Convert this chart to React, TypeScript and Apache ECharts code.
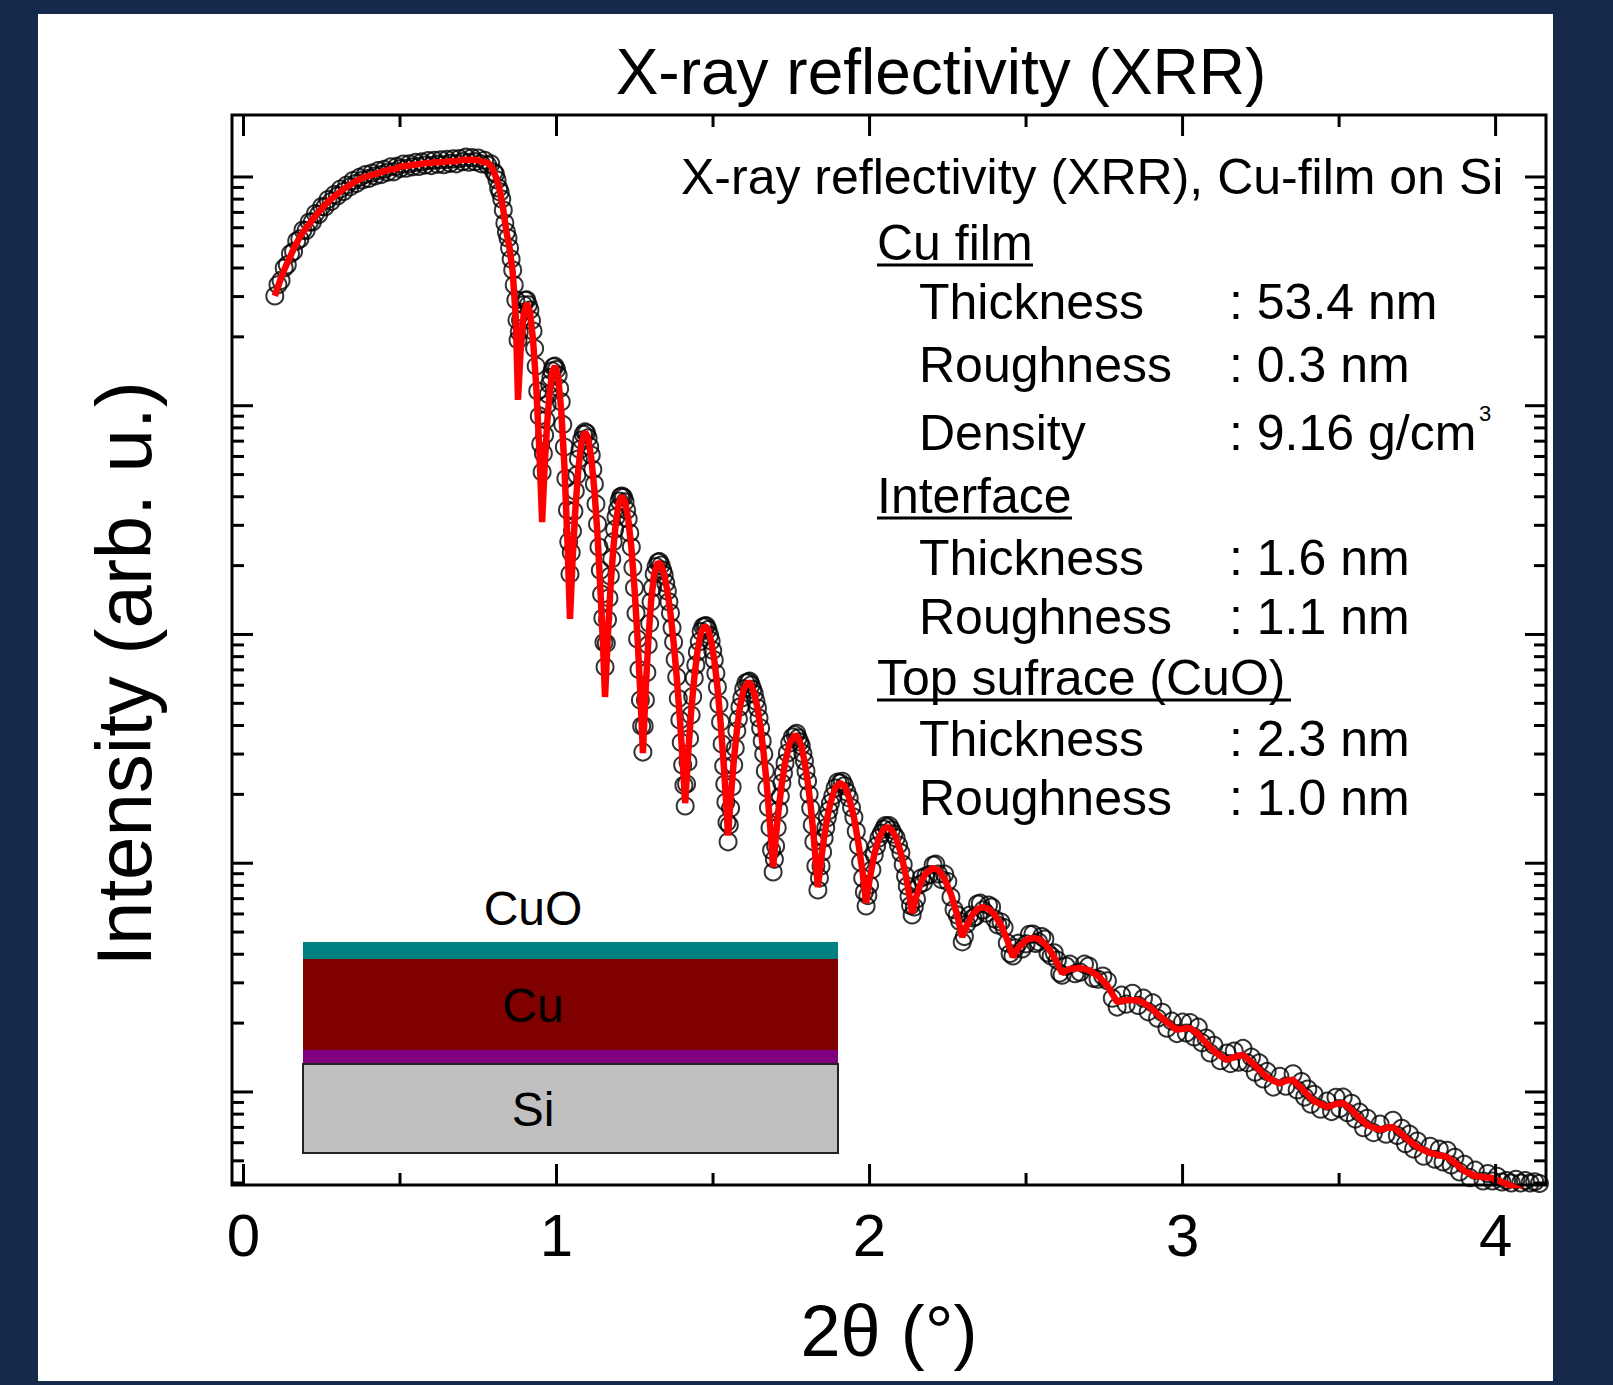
import React, { useEffect, useRef } from 'react';
import * as echarts from 'echarts';

// ---- measured scan: 2θ (deg) and intensity (arb. u.), open circles ----
const twoThetaMeasured = [
  0.10,0.11,0.12,0.13,0.14,0.15,0.16,0.17,0.18,0.19,
  0.20,0.21,0.22,0.23,0.24,0.25,0.26,0.27,0.28,0.29,
  0.30,0.31,0.32,0.33,0.34,0.35,0.36,0.37,0.38,0.39,
  0.40,0.41,0.42,0.43,0.44,0.45,0.46,0.47,0.48,0.49,
  0.50,0.51,0.52,0.53,0.54,0.55,0.56,0.57,0.58,0.59,
  0.60,0.61,0.62,0.63,0.64,0.65,0.66,0.67,0.68,0.69,
  0.70,0.71,0.72,0.73,0.74,0.75,0.76,0.77,0.78,0.79,
  0.80,0.805,0.81,0.815,0.82,0.825,0.83,0.835,0.84,0.845,
  0.85,0.855,0.86,0.865,0.87,0.8735,0.877,0.881,0.885,0.89,
  0.895,0.90,0.905,0.91,0.915,0.92,0.925,0.93,0.935,0.94,
  0.945,0.9495,0.954,0.958,0.962,0.966,0.970,0.974,0.978,0.982,
  0.986,0.9905,0.995,1.000,1.005,1.010,1.015,1.020,1.025,1.030,
  1.035,1.039,1.043,1.047,1.051,1.0555,1.060,1.065,1.070,1.075,
  1.080,1.0855,1.091,1.096,1.101,1.106,1.111,1.116,1.121,1.126,
  1.131,1.1355,1.140,1.144,1.148,1.1515,1.155,1.159,1.163,1.1675,
  1.172,1.1765,1.181,1.1855,1.190,1.195,1.200,1.2045,1.209,1.214,
  1.219,1.224,1.229,1.234,1.239,1.244,1.249,1.254,1.259,1.2635,
  1.268,1.272,1.276,1.280,1.284,1.2885,1.293,1.2975,1.302,1.307,
  1.312,1.318,1.324,1.329,1.334,1.339,1.344,1.349,1.354,1.359,
  1.364,1.369,1.374,1.379,1.384,1.389,1.394,1.3985,1.403,1.407,
  1.411,1.4155,1.420,1.425,1.430,1.435,1.440,1.445,1.450,1.456,
  1.462,1.468,1.474,1.479,1.484,1.489,1.494,1.499,1.504,1.509,
  1.514,1.519,1.524,1.529,1.534,1.5375,1.541,1.5445,1.548,1.552,
  1.556,1.561,1.566,1.571,1.576,1.581,1.586,1.592,1.598,1.605,
  1.612,1.617,1.622,1.627,1.632,1.637,1.642,1.647,1.652,1.657,
  1.662,1.667,1.672,1.677,1.682,1.687,1.692,1.696,1.700,1.705,
  1.710,1.715,1.720,1.725,1.730,1.7375,1.745,1.7535,1.762,1.767,
  1.772,1.777,1.782,1.787,1.792,1.797,1.802,1.807,1.812,1.817,
  1.822,1.8285,1.835,1.840,1.845,1.850,1.855,1.860,1.865,1.870,
  1.875,1.8825,1.890,1.898,1.906,1.913,1.920,1.9275,1.935,1.9425,
  1.950,1.9575,1.965,1.9715,1.978,1.9835,1.989,1.9945,2.000,2.0075,
  2.015,2.0225,2.030,2.0375,2.045,2.0505,2.056,2.063,2.070,2.0775,
  2.085,2.0925,2.100,2.1075,2.115,2.1205,2.126,2.131,2.136,2.143,
  2.150,2.1575,2.165,2.1725,2.180,2.1915,2.203,2.2115,2.220,2.230,
  2.240,2.250,2.260,2.270,2.280,2.288,2.296,2.303,2.310,2.320,
  2.330,2.3375,2.345,2.354,2.363,2.3715,2.380,2.390,2.400,2.410,
  2.420,2.430,2.440,2.449,2.458,2.4665,2.475,2.4875,2.500,2.511,
  2.522,2.531,2.540,2.550,2.560,2.570,2.580,2.590,2.600,2.6075,
  2.615,2.6275,2.640,2.6565,2.673,2.6865,2.700,2.715,2.730,2.745,
  2.760,2.7755,2.791,2.805,2.820,2.840,2.858,2.875,2.890,2.905,
  2.920,2.935,2.950,2.966,2.982,3.000,3.012,3.024,3.037,3.050,
  3.062,3.075,3.088,3.100,3.121,3.142,3.153,3.165,3.179,3.193,
  3.207,3.220,3.232,3.245,3.258,3.270,3.290,3.311,3.330,3.353,
  3.366,3.380,3.390,3.400,3.410,3.420,3.441,3.462,3.476,3.490,
  3.502,3.513,3.527,3.540,3.552,3.565,3.578,3.590,3.610,3.631,
  3.650,3.672,3.686,3.700,3.712,3.725,3.738,3.750,3.770,3.791,
  3.806,3.820,3.832,3.845,3.858,3.870,3.885,3.900,3.918,3.935,
  3.960,3.975,3.990,4.005,4.020,4.035,4.050,4.065,4.080,4.095,
  4.110,4.125,4.140,
];

const intensityMeasured = [
  3020,3380,3530,4000,4130,4620,4720,5250,5360,5860,
  5830,6350,6360,6920,6850,7430,7390,7970,7810,8380,
  8260,8860,8640,9220,9050,9650,9370,9950,9700,10250,
  9850,10400,10100,10660,10240,10810,10490,11070,10530,11120,
  10880,11380,10920,11420,11070,11580,11120,11630,11270,11790,
  11210,11830,11370,11890,11310,11930,11470,11990,11410,12040,
  11660,12200,11600,12140,11660,12100,11410,11830,11270,11420,
  10500,10300,9700,8950,8600,8010,7170,6290,5750,5410,
  4890,4380,3920,3370,2900,2370,1940,2100,2370,2560,
  2760,2890,2900,2760,2620,2360,2120,1780,1490,1160,
  902,680,513,618,745,867,1010,1120,1240,1330,
  1420,1480,1490,1440,1360,1190,1040,828,660,481,
  350,254,184,228,283,346,424,498,585,644,
  708,750,768,760,723,664,609,526,455,372,
  304,241,191,150,118,92.2,72.1,91.5,116,144.5,
  180,214,254,288,326,353,383,400,403,398,
  380,349,320,278,241,196,160,123.7,95.6,70.3,
  51.7,39.8,30.6,39.8,51.7,68.2,90.0,111.8,139,160,
  184,198,207,208,201,191,182,168,155,139,
  124,107,92.7,77.7,65.2,52.5,42.3,33.7,26.9,21.9,
  17.8,22.2,27.7,35.1,44.5,53.6,64.5,73.6,83.9,93.0,
  103,108,109,109,105,99.2,93.7,85.2,77.4,67.6,
  59.0,49.4,41.4,33.2,26.6,22.2,18.5,15.1,12.4,14.7,
  17.4,21.6,26.9,31.9,37.9,42.7,48.2,52.8,57.8,61.5,
  62.0,62.5,60.2,57.5,54.9,51.2,47.7,43.1,39.0,34.2,
  30.0,25.3,21.3,17.5,14.3,11.4,9.16,10.4,11.9,14.3,
  17.1,19.6,22.4,24.8,27.4,30.3,33.5,35.6,36.4,37.0,
  35.3,33.9,32.6,30.2,28.0,25.3,22.9,20.0,17.4,14.7,
  12.4,9.73,7.64,8.62,9.73,11.2,12.9,14.3,15.8,17.0,
  18.3,19.7,21.3,22.6,22.4,22.8,21.8,20.5,19.3,17.5,
  15.9,13.8,11.9,10.1,8.62,7.49,6.50,7.22,8.03,9.36,
  10.9,11.9,12.9,13.5,14.1,14.6,14.4,14.6,14.0,13.4,
  12.9,12.0,11.1,9.88,8.80,7.95,7.19,6.54,5.94,6.44,
  6.98,8.03,8.61,8.23,8.79,8.92,9.82,9.90,8.97,8.48,
  8.96,8.31,7.12,6.27,5.94,5.58,4.53,4.78,5.42,5.93,
  5.76,5.84,6.63,6.69,6.25,6.05,6.56,6.43,5.70,5.37,
  5.53,5.23,4.48,4.03,3.93,4.27,4.47,4.22,4.44,4.89,
  4.90,4.46,4.53,4.78,4.66,4.05,3.93,4.06,3.77,3.31,
  3.24,3.55,3.62,3.29,3.34,3.62,3.55,3.14,3.11,3.21,
  3.06,2.57,2.35,2.65,2.42,2.70,2.39,2.57,2.24,2.45,
  2.10,2.23,1.90,2.04,1.80,2.02,1.81,2.01,1.74,1.92,
  1.64,1.72,1.48,1.60,1.37,1.48,1.33,1.51,1.35,1.55,
  1.34,1.42,1.22,1.34,1.14,1.23,1.05,1.17,1.06,1.20,
  1.02,1.11,0.950,1.03,0.884,0.977,0.841,0.912,0.821,0.948,
  0.846,0.949,0.812,0.892,0.761,0.816,0.698,0.767,0.664,0.723,
  0.654,0.752,0.645,0.694,0.594,0.654,0.563,0.610,0.524,0.579,
  0.508,0.562,0.494,0.556,0.479,0.518,0.447,0.483,0.422,0.455,
  0.408,0.440,0.408,0.428,0.404,0.41,0.40,0.415,0.40,0.41,
  0.40,0.405,0.398,
];

// ---- fitted (simulated) curve: 2θ (deg) and intensity, red line ----
const twoThetaFit = [
  0.10,0.11,0.12,0.13,0.14,0.15,0.16,0.17,0.18,0.19,
  0.20,0.21,0.22,0.23,0.24,0.25,0.26,0.27,0.28,0.29,
  0.30,0.31,0.32,0.33,0.34,0.35,0.36,0.37,0.38,0.39,
  0.40,0.41,0.42,0.43,0.44,0.45,0.46,0.47,0.48,0.49,
  0.50,0.51,0.52,0.53,0.54,0.55,0.56,0.57,0.58,0.59,
  0.60,0.61,0.62,0.63,0.64,0.65,0.66,0.67,0.68,0.69,
  0.70,0.71,0.72,0.73,0.74,0.75,0.76,0.77,0.78,0.79,
  0.80,0.81,0.82,0.83,0.84,0.85,0.86,0.87,0.877,0.885,
  0.895,0.905,0.915,0.925,0.935,0.945,0.954,0.962,0.970,0.978,
  0.986,0.995,1.005,1.015,1.025,1.035,1.043,1.051,1.060,1.070,
  1.080,1.091,1.101,1.111,1.121,1.131,1.140,1.148,1.155,1.163,
  1.172,1.181,1.190,1.200,1.209,1.219,1.229,1.239,1.249,1.259,
  1.268,1.276,1.284,1.293,1.302,1.312,1.324,1.334,1.344,1.354,
  1.364,1.374,1.384,1.394,1.403,1.411,1.420,1.430,1.440,1.450,
  1.462,1.474,1.484,1.494,1.504,1.514,1.524,1.534,1.541,1.548,
  1.556,1.566,1.576,1.586,1.598,1.612,1.622,1.632,1.642,1.652,
  1.662,1.672,1.682,1.692,1.700,1.710,1.720,1.730,1.745,1.762,
  1.772,1.782,1.792,1.802,1.812,1.822,1.835,1.845,1.855,1.865,
  1.875,1.890,1.906,1.920,1.935,1.950,1.965,1.978,1.989,2.000,
  2.015,2.030,2.045,2.056,2.070,2.085,2.100,2.115,2.126,2.136,
  2.150,2.165,2.180,2.203,2.220,2.240,2.260,2.280,2.296,2.310,
  2.330,2.345,2.363,2.380,2.400,2.420,2.440,2.458,2.475,2.500,
  2.522,2.540,2.560,2.580,2.600,2.615,2.640,2.673,2.700,2.730,
  2.760,2.791,2.805,2.820,2.840,2.858,2.875,2.890,2.905,2.920,
  2.935,2.950,2.966,2.982,3.000,3.012,3.024,3.037,3.050,3.062,
  3.075,3.088,3.100,3.121,3.142,3.153,3.165,3.179,3.193,3.207,
  3.220,3.232,3.245,3.258,3.270,3.290,3.311,3.330,3.353,3.366,
  3.380,3.390,3.400,3.410,3.420,3.441,3.462,3.476,3.490,3.502,
  3.513,3.527,3.540,3.552,3.565,3.578,3.590,3.610,3.631,3.650,
  3.672,3.686,3.700,3.712,3.725,3.738,3.750,3.770,3.791,3.806,
  3.820,3.832,3.845,3.858,3.870,3.885,3.900,3.918,3.935,3.960,
  3.975,3.990,4.005,4.020,4.035,4.050,4.065,4.080,4.095,4.110,
  4.125,4.140,
];

const intensityFit = [
  3020,3300,3620,3920,4210,4510,4840,5150,5470,5720,
  5980,6230,6490,6750,7030,7280,7540,7780,8010,8220,
  8430,8640,8860,9040,9230,9410,9610,9750,9900,10000,
  10100,10200,10300,10400,10500,10600,10700,10800,10800,10900,
  11100,11100,11200,11200,11300,11300,11400,11400,11500,11500,
  11500,11600,11600,11600,11600,11700,11700,11700,11700,11800,
  11900,11900,11900,11900,11900,11800,11700,11600,11500,11200,
  10500,9700,8600,7170,5750,4890,3840,2420,1060,1720,
  2490,2810,2570,1940,1230,647,310,540,832,1140,
  1390,1490,1340,958,551,254,117,207,350,534,
  694,768,723,591,428,272,160,93.7,53.3,92.7,
  157,234,313,380,403,380,320,241,160,95.6,
  54.4,30.3,54.4,92.7,139,184,207,201,182,155,
  124,92.7,65.2,43.2,28.0,18.3,29.4,45.8,64.5,83.9,
  103,109,105,93.7,77.4,59.0,41.4,27.2,19.3,13.2,
  18.9,27.7,37.9,48.2,57.8,62.0,60.2,54.9,47.7,39.0,
  30.0,21.8,14.8,9.63,12.8,17.4,22.4,27.4,33.5,36.4,
  35.3,32.6,28.0,22.9,17.8,12.9,7.87,10.3,13.0,15.8,
  18.3,21.3,22.4,21.8,19.3,15.9,12.1,9.06,6.70,8.45,
  10.9,12.9,14.1,14.4,14.0,12.9,11.1,8.97,7.41,6.06,
  7.19,8.28,9.06,9.53,9.34,8.53,7.34,5.94,4.76,5.32,
  6.00,6.31,6.44,6.31,5.94,5.37,4.62,3.89,4.26,4.62,
  4.71,4.67,4.44,4.09,3.66,3.31,3.45,3.48,3.41,3.21,
  2.91,2.47,2.50,2.52,2.52,2.52,2.45,2.38,2.29,2.19,
  2.10,2.02,1.94,1.87,1.89,1.90,1.90,1.85,1.79,1.71,
  1.64,1.57,1.51,1.44,1.38,1.40,1.42,1.44,1.45,1.40,
  1.35,1.30,1.25,1.20,1.16,1.12,1.09,1.12,1.13,1.08,
  1.04,1.00,0.970,0.940,0.913,0.885,0.860,0.873,0.886,0.891,
  0.895,0.864,0.834,0.801,0.770,0.743,0.717,0.699,0.682,0.696,
  0.703,0.679,0.655,0.632,0.611,0.593,0.575,0.557,0.541,0.535,
  0.530,0.525,0.520,0.504,0.489,0.470,0.451,0.440,0.429,0.425,
  0.423,0.421,0.412,0.404,0.396,0.388,0.380,0.373,0.365,0.358,
  0.353,0.348,
];

const xTickLabels = [0, 1, 2, 3, 4];
const xMinorTicks = [0.5, 1.5, 2.5, 3.5];
const yMajorTicks = [1, 10, 100, 1000, 10000];
const yMinorTicks = [
  0.4, 0.5, 0.6, 0.7, 0.8, 0.9,
  2, 3, 4, 5, 6, 7, 8, 9,
  20, 30, 40, 50, 60, 70, 80, 90,
  200, 300, 400, 500, 600, 700, 800, 900,
  2000, 3000, 4000, 5000, 6000, 7000, 8000, 9000,
];

const chartTitle = 'X-ray reflectivity (XRR)';
const xAxisTitle = '2θ (°)';
const yAxisTitle = 'Intensity (arb. u.)';
const headerText = 'X-ray reflectivity (XRR), Cu-film on Si';
const groupTitles = ['Cu film', 'Interface', 'Top sufrace (CuO)'];
const paramNames = [['Thickness', 'Roughness', 'Density'], ['Thickness', 'Roughness'], ['Thickness', 'Roughness']];
const paramValues = [[': 53.4 nm', ': 0.3 nm', ': 9.16 g/cm'], [': 1.6 nm', ': 1.1 nm'], [': 2.3 nm', ': 1.0 nm']];
const stackLabels = ['CuO', 'Cu', 'Si'];

const X_MIN = -0.0367;
const X_MAX = 4.161;
const Y_MIN = 0.392;
const Y_MAX = 18660;
const FONT = '"Liberation Sans", Arial, Helvetica, sans-serif';

function tickSeries(values: number[], orient: 'x' | 'y', len: number) {
  return {
    type: 'custom',
    silent: true,
    clip: false,
    z: 6,
    data: values.map((v) => (orient === 'x' ? [v, Y_MIN] : [X_MIN, v])),
    renderItem: (params: any, api: any) => {
      const cs = params.coordSys;
      const p = api.coord([api.value(0), api.value(1)]);
      const style = { stroke: '#000', lineWidth: 3 };
      if (orient === 'x') {
        const bottom = cs.y + cs.height;
        const top = cs.y;
        return {
          type: 'group',
          children: [
            { type: 'line', shape: { x1: p[0], y1: bottom, x2: p[0], y2: bottom - len }, style },
            { type: 'line', shape: { x1: p[0], y1: top, x2: p[0], y2: top + len }, style },
          ],
        };
      }
      const left = cs.x;
      const right = cs.x + cs.width;
      return {
        type: 'group',
        children: [
          { type: 'line', shape: { x1: left, y1: p[1], x2: left + len, y2: p[1] }, style },
          { type: 'line', shape: { x1: right, y1: p[1], x2: right - len, y2: p[1] }, style },
        ],
      };
    },
  };
}

function txt(text: string, x: number, y: number, size: number, align: string = 'left', extra: any = {}) {
  return {
    type: 'text',
    x,
    y,
    silent: true,
    z: 20,
    ...extra,
    style: {
      text,
      fill: '#000',
      fontSize: size,
      fontFamily: FONT,
      align,
      textAlign: align,
      verticalAlign: 'middle',
      textVerticalAlign: 'middle',
    },
  };
}

function buildGraphic() {
  const els: any[] = [];
  els.push(txt(yAxisTitle, 124, 674, 78, 'center', { rotation: Math.PI / 2 }));
  els.push(txt(headerText, 681, 177, 50));
  const groupY = [243, 496, 678];
  const rowY = [[302, 365, 433], [558, 617], [739, 798]];
  const underlineEnd = [1033, 1072, 1291];
  groupTitles.forEach((g, gi) => {
    els.push(txt(g, 877, groupY[gi], 50));
    els.push({
      type: 'line',
      silent: true,
      z: 20,
      shape: { x1: 877, y1: groupY[gi] + 22, x2: underlineEnd[gi], y2: groupY[gi] + 22 },
      style: { stroke: '#000', lineWidth: 3 },
    });
    paramNames[gi].forEach((n, ri) => {
      els.push(txt(n, 919, rowY[gi][ri], 50));
      els.push(txt(paramValues[gi][ri], 1229, rowY[gi][ri], 50));
    });
  });
  els.push(txt('3', 1479, 413, 22));
  // layer-stack inset
  const rx = 303;
  const rw = 535;
  els.push({ type: 'rect', silent: true, z: 15, shape: { x: rx, y: 942, width: rw, height: 17 }, style: { fill: '#008080' } });
  els.push({ type: 'rect', silent: true, z: 15, shape: { x: rx, y: 959, width: rw, height: 91 }, style: { fill: '#800000' } });
  els.push({ type: 'rect', silent: true, z: 15, shape: { x: rx, y: 1050, width: rw, height: 14 }, style: { fill: '#800080' } });
  els.push({ type: 'rect', silent: true, z: 15, shape: { x: rx, y: 1064, width: rw, height: 89 }, style: { fill: '#c0c0c0', stroke: '#222', lineWidth: 2 } });
  els.push(txt(stackLabels[0], 533, 908, 48, 'center'));
  els.push(txt(stackLabels[1], 533, 1005, 48, 'center'));
  els.push(txt(stackLabels[2], 533, 1109, 48, 'center'));
  return els;
}

export default function App() {
  const ref = useRef<HTMLDivElement>(null);
  useEffect(() => {
    document.body.style.margin = '0';
    const chart = echarts.init(ref.current as HTMLDivElement, undefined, { renderer: 'svg', width: 1613, height: 1385 });
    const option: any = {
      animation: false,
      backgroundColor: 'transparent',
      title: {
        text: chartTitle,
        left: 936,
        top: 35,
        textAlign: 'center',
        textStyle: { fontSize: 64, fontWeight: 'normal', color: '#000', fontFamily: FONT },
      },
      grid: {
        left: 232,
        top: 115,
        width: 1314,
        height: 1070,
        show: true,
        borderColor: '#000',
        borderWidth: 3,
        backgroundColor: 'transparent',
        containLabel: false,
      },
      xAxis: {
        type: 'value',
        min: X_MIN,
        max: X_MAX,
        name: xAxisTitle,
        nameLocation: 'middle',
        nameGap: 110,
        nameTextStyle: { fontSize: 72, color: '#000', fontFamily: FONT },
        axisLine: { show: false },
        axisTick: { show: false },
        splitLine: { show: false },
        axisLabel: {
          customValues: xTickLabels,
          formatter: (v: number) => (Math.abs(v - Math.round(v)) < 1e-9 ? String(Math.round(v)) : ''),
          fontSize: 60,
          color: '#000',
          margin: 20,
          fontFamily: FONT,
        },
      },
      yAxis: {
        type: 'log',
        min: Y_MIN,
        max: Y_MAX,
        axisLine: { show: false },
        axisTick: { show: false },
        axisLabel: { show: false },
        splitLine: { show: false },
        minorTick: { show: false },
        minorSplitLine: { show: false },
      },
      graphic: buildGraphic(),
      series: [
        {
          type: 'scatter',
          name: 'Measured',
          silent: true,
          z: 3,
          symbol: 'circle',
          symbolSize: 17,
          itemStyle: { color: 'rgba(0,0,0,0)', borderColor: '#000', borderWidth: 2 },
          data: twoThetaMeasured.map((x, i) => [x, intensityMeasured[i]]),
        },
        {
          type: 'line',
          name: 'Fit',
          silent: true,
          z: 4,
          showSymbol: false,
          symbol: 'none',
          clip: true,
          lineStyle: { color: '#ff0000', width: 6.5 },
          data: twoThetaFit.map((x, i) => [x, intensityFit[i]]),
        },
        tickSeries(xTickLabels, 'x', 21),
        tickSeries(xMinorTicks, 'x', 12),
        tickSeries(yMajorTicks, 'y', 21),
        tickSeries(yMinorTicks, 'y', 12),
      ],
    };
    chart.setOption(option);
    return () => chart.dispose();
  }, []);
  return (
    <div style={{ position: 'relative', width: 1613, height: 1385, background: '#15294b', overflow: 'hidden' }}>
      <div style={{ position: 'absolute', left: 38, top: 14, width: 1515, height: 1367, background: '#ffffff' }} />
      <div ref={ref} style={{ position: 'absolute', left: 0, top: 0, width: 1613, height: 1385 }} />
    </div>
  );
}
